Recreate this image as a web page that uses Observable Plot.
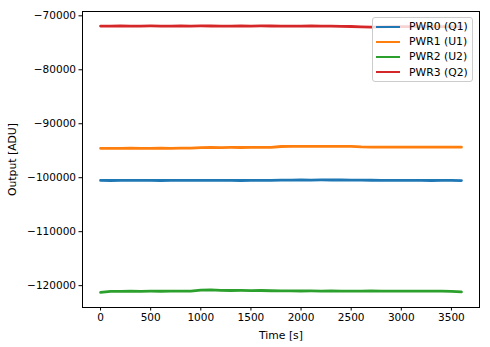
<!DOCTYPE html>
<html>
<head>
<meta charset="utf-8">
<script src="https://cdn.jsdelivr.net/npm/d3@7"></script>
<script src="https://cdn.jsdelivr.net/npm/@observablehq/plot@0.6"></script>
<style>
  body { margin: 0; background: #fff; }
  #wrap { position: relative; width: 490px; height: 347px; font-family: "DejaVu Sans", sans-serif; }
  #legend { position: absolute; left: 372px; top: 17px; width: 101px; height: 65px;
    border: 1px solid #cccccc; border-radius: 3px; background: rgba(255,255,255,0.8);
    font-size: 10.8px; color: #000; box-sizing: border-box; padding-top: 1px; }
  .item { display: flex; align-items: center; height: 15.2px; white-space: nowrap; }
  .swatch { display: block; width: 24px; height: 2px; margin-left: 3px; margin-right: 9px; flex: none; }
</style>
</head>
<body>
<div id="wrap"><div id="chart"></div><div id="legend"></div></div>
<script>
// Sample times (s)
const times = [0,100,200,300,400,500,600,700,800,900,1000,1100,1200,1300,1400,1500,1600,1700,1800,1900,2000,2100,2200,2300,2400,2500,2600,2700,2800,2900,3000,3100,3200,3300,3400,3500,3600];

// Series labels and colours
const seriesNames = ["PWR0 (Q1)", "PWR1 (U1)", "PWR2 (U2)", "PWR3 (Q2)"];
const seriesColors = ["#1f77b4", "#ff7f0e", "#2ca02c", "#d62728"];

// Values (ADU)
const pwr0 = [-100500,-100520,-100480,-100510,-100500,-100490,-100520,-100500,-100480,-100510,-100500,-100490,-100480,-100500,-100520,-100490,-100500,-100480,-100460,-100440,-100420,-100430,-100410,-100420,-100400,-100430,-100450,-100470,-100480,-100500,-100490,-100510,-100500,-100520,-100500,-100510,-100530];
const pwr1 = [-94560,-94550,-94570,-94540,-94560,-94550,-94540,-94560,-94530,-94520,-94420,-94400,-94410,-94390,-94400,-94380,-94390,-94360,-94220,-94200,-94190,-94200,-94180,-94200,-94190,-94210,-94300,-94330,-94340,-94350,-94340,-94330,-94350,-94340,-94330,-94340,-94350];
const pwr2 = [-121250,-121080,-121060,-121040,-121050,-121030,-121040,-121020,-121030,-121010,-120820,-120800,-120880,-120900,-120890,-120910,-120900,-120950,-120980,-120970,-120990,-120980,-121000,-120990,-121000,-121010,-121000,-120990,-121010,-121000,-121020,-121010,-121000,-121020,-121030,-121060,-121150];
const pwr3 = [-71900,-71920,-71890,-71910,-71900,-71880,-71900,-71910,-71890,-71900,-71880,-71890,-71900,-71910,-71890,-71900,-71880,-71890,-71900,-71910,-71900,-71890,-71910,-71920,-71950,-71980,-72050,-72080,-72050,-72020,-72000,-71990,-72000,-71980,-72000,-71990,-72000];

// Axis ticks
const xTicks = [0,500,1000,1500,2000,2500,3000,3500];
const yTicks = [-70000,-80000,-90000,-100000,-110000,-120000];

const allSeries = [pwr0, pwr1, pwr2, pwr3];
const rows = [];
allSeries.forEach((vals, s) => vals.forEach((v, i) => rows.push({t: times[i], v, name: seriesNames[s]})));

const fmt = d3.format("d");
const chart = Plot.plot({
  width: 490,
  height: 347,
  marginLeft: 82,
  marginRight: 11,
  marginTop: 11,
  marginBottom: 40,
  style: {fontFamily: "DejaVu Sans, sans-serif", fontSize: "10.5px", color: "#000", background: "#fff"},
  x: {domain: [-180, 3780]},
  y: {domain: [-124050, -69200]},
  color: {domain: seriesNames, range: seriesColors},
  marks: [
    Plot.line(rows, {x: "t", y: "v", z: "name", stroke: "name", strokeWidth: 2.8}),
    Plot.frame({stroke: "#000", strokeWidth: 1}),
    Plot.axisX({ticks: xTicks, tickFormat: fmt, tickSize: 3.5, tickPadding: 3, label: null}),
    Plot.axisX({ticks: [], label: "Time [s]", labelAnchor: "center", labelArrow: "none", labelOffset: 31, fontSize: 10.8}),
    Plot.axisY({ticks: yTicks, tickFormat: fmt, tickSize: 3.5, tickPadding: 3, label: null}),
    Plot.axisY({ticks: [], label: "Output [ADU]", labelAnchor: "center", labelArrow: "none", labelOffset: 74, fontSize: 10.8})
  ]
});
document.getElementById("chart").appendChild(chart);

const legend = document.getElementById("legend");
seriesNames.forEach((n, i) => {
  const it = document.createElement("div");
  it.className = "item";
  const sw = document.createElement("span");
  sw.className = "swatch";
  sw.style.backgroundColor = seriesColors[i];
  const tx = document.createElement("span");
  tx.textContent = n;
  it.appendChild(sw); it.appendChild(tx);
  legend.appendChild(it);
});
</script>
</body>
</html>
